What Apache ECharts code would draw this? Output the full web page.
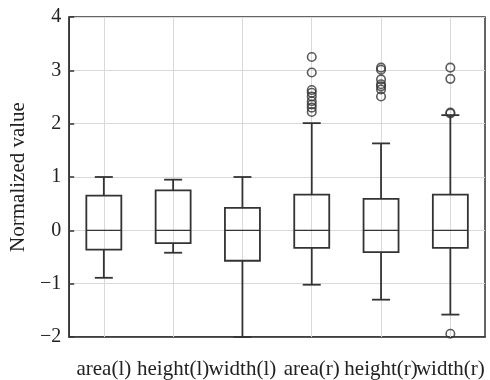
<!DOCTYPE html>
<html>
<head>
<meta charset="utf-8">
<script src="https://cdn.jsdelivr.net/npm/echarts@6/dist/echarts.min.js"></script>
<style>
  html, body { margin: 0; padding: 0; background: #fff; }
  #chart { width: 490px; height: 380px; }
</style>
</head>
<body>
<div id="chart"></div>
<script>
// categories on the x axis
const categories = ['area(l)', 'height(l)', 'width(l)', 'area(r)', 'height(r)', 'width(r)'];
// box stats: [lower whisker, Q1, median, Q3, upper whisker]
const lowerWhisker = [-0.89, -0.42, -2.0, -1.02, -1.30, -1.58];
const q1 = [-0.36, -0.24, -0.57, -0.33, -0.41, -0.33];
const median = [0, 0, 0, 0, 0, 0];
const q3 = [0.65, 0.75, 0.42, 0.67, 0.59, 0.67];
const upperWhisker = [1.0, 0.95, 1.0, 2.01, 1.63, 2.16];
// outliers per category
const outlierArea = [3.25, 2.96, 2.63, 2.58, 2.51, 2.42, 2.36, 2.30, 2.22];
const outlierHeight = [3.05, 3.01, 2.83, 2.74, 2.70, 2.64, 2.51];
const outlierWidth = [3.05, 2.84, 2.21, 2.19, -1.94];
const yTicks = { min: -2, max: 4, interval: 1 };

const boxData = categories.map((c, i) => [i, lowerWhisker[i], q1[i], median[i], q3[i], upperWhisker[i]]);
const outliers = []
outlierArea.forEach(v => outliers.push([3, v]));
outlierHeight.forEach(v => outliers.push([4, v]));
outlierWidth.forEach(v => outliers.push([5, v]));

const ink = '#333';
const font = '"Liberation Serif", "Times New Roman", serif';

const chart = echarts.init(document.getElementById('chart'));

// draws box + whiskers with short caps
const renderBox = (params, api) => {
    const idx = api.value(0);
    const lo = api.coord([idx, api.value(1)]);
    const b1 = api.coord([idx, api.value(2)]);
    const md = api.coord([idx, api.value(3)]);
    const b3 = api.coord([idx, api.value(4)]);
    const hi = api.coord([idx, api.value(5)]);
    const x = lo[0];
    const hw = 17.5, cw = 9;
    const style = { stroke: ink, lineWidth: 1.8, fill: null };
    return {
        type: 'group',
        children: [
            { type: 'rect', shape: { x: x - hw, y: b3[1], width: hw * 2, height: b1[1] - b3[1] }, style: style },
            { type: 'line', shape: { x1: x - hw, y1: md[1], x2: x + hw, y2: md[1] }, style: { stroke: ink, lineWidth: 1.3 } },
            { type: 'line', shape: { x1: x, y1: b3[1], x2: x, y2: hi[1] }, style: style },
            { type: 'line', shape: { x1: x, y1: b1[1], x2: x, y2: lo[1] }, style: style },
            { type: 'line', shape: { x1: x - cw, y1: hi[1], x2: x + cw, y2: hi[1] }, style: style },
            { type: 'line', shape: { x1: x - cw, y1: lo[1], x2: x + cw, y2: lo[1] }, style: style }
        ]
    };
};

const option = {
    animation: false,
    backgroundColor: '#fff',
    grid: {
        left: 68, right: 5, top: 17, bottom: 43,
        show: true, borderColor: ink, borderWidth: 1.5
    },
    xAxis: {
        type: 'category',
        data: categories,
        boundaryGap: true,
        axisLine: { onZero: false, lineStyle: { color: ink, width: 1.5 } },
        axisTick: { alignWithLabel: true, inside: true, length: 5, lineStyle: { color: ink, width: 1.5 } },
        axisLabel: { interval: 0, margin: 22, color: '#222', fontFamily: font, fontSize: 21 },
        splitLine: { show: false }
    },
    yAxis: {
        type: 'value',
        min: yTicks.min, max: yTicks.max, interval: yTicks.interval,
        name: 'Normalized value',
        nameLocation: 'middle',
        nameGap: 36,
        nameTextStyle: { color: '#222', fontFamily: font, fontSize: 21 },
        axisLine: { show: true, onZero: false, lineStyle: { color: ink, width: 1.5 } },
        axisTick: { show: true, inside: true, length: 5, lineStyle: { color: ink, width: 1.5 } },
        axisLabel: {
            margin: 8, color: '#222', fontFamily: font, fontSize: 20,
            formatter: v => String(v).replace('-', '\u2212')
        },
        splitLine: { show: true, lineStyle: { color: '#d9d9d9', width: 1 } }
    },
    series: [
        {
            type: 'custom',
            renderItem: renderBox,
            data: boxData,
            encode: { x: 0, y: [1, 2, 3, 4, 5] },
            z: 3,
            markLine: {
                silent: true,
                symbol: 'none',
                label: { show: false },
                lineStyle: { color: '#d9d9d9', width: 1, type: 'solid' },
                data: categories.map(c => ({ xAxis: c })),
                z: 1
            }
        },
        {
            type: 'scatter',
            data: outliers,
            symbol: 'circle',
            symbolSize: 8.5,
            itemStyle: { color: 'rgba(0,0,0,0)', borderColor: ink, borderWidth: 1.6 },
            z: 4
        }
    ]
};

chart.setOption(option);
</script>
</body>
</html>
